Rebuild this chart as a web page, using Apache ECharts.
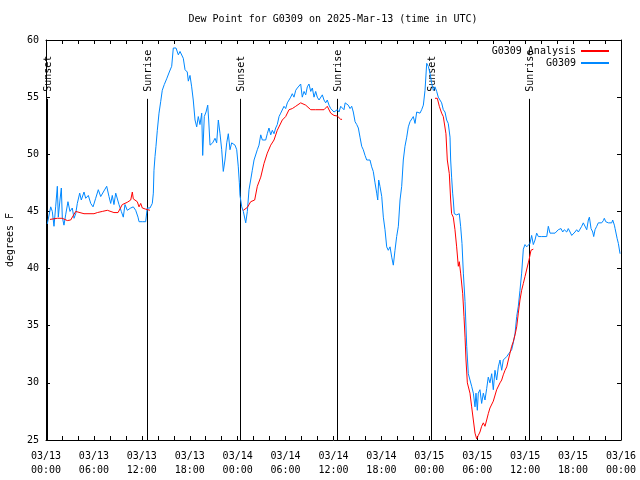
<!DOCTYPE html>
<html>
<head>
<meta charset="utf-8">
<script src="https://cdn.jsdelivr.net/npm/echarts@6/dist/echarts.min.js"></script>
<style>html,body{margin:0;padding:0;background:#fff;}#c{width:640px;height:480px;}</style>
</head>
<body>
<div id="c"></div>
<script>
// hours since 2025-03-13 00:00 UTC, dew point (F)
const stationPoints = [
[0.16,43.9],[0.38,43.75],[0.59,45.4],[0.79,45.0],[1.0,43.7],[1.21,45.4],[1.42,47.2],[1.54,44.5],[1.75,46.0],[1.92,47.05],
[2.04,44.5],[2.25,43.8],[2.46,44.7],[2.75,45.85],[3.0,45.0],[3.29,45.3],[3.51,44.4],[3.72,44.8],[3.92,45.7],[4.22,46.6],
[4.42,46.0],[4.76,46.7],[4.97,46.15],[5.30,46.4],[5.60,45.7],[5.89,45.4],[6.22,46.15],[6.55,46.9],[6.85,46.3],[7.18,46.7],
[7.60,47.2],[7.89,46.3],[8.10,45.7],[8.30,46.4],[8.51,45.6],[8.73,46.6],[9.14,45.6],[9.43,45.0],[9.68,44.5],[9.89,45.6],
[10.18,45.1],[10.61,45.3],[10.93,45.4],[11.23,45.1],[11.52,44.5],[11.65,44.1],[12.06,44.1],[12.48,44.1],[12.68,45.3],[13.02,45.3],
[13.31,45.7],[13.44,46.6],[13.52,48.6],[13.65,49.8],[13.77,50.7],[13.94,52.1],[14.15,53.6],[14.36,54.6],[14.56,55.6],[14.81,56.1],
[15.11,56.6],[15.44,57.2],[15.74,57.7],[15.94,59.3],[16.28,59.3],[16.57,58.7],[16.78,59.0],[16.99,59.0],[17.19,58.4],[17.41,57.4],
[17.69,57.2],[17.82,56.4],[18.03,56.9],[18.24,55.9],[18.44,54.75],[18.66,53.0],[18.87,52.4],[19.07,53.3],[19.28,52.6],[19.50,53.6],
[19.62,49.9],[19.82,53.3],[20.04,53.7],[20.25,54.3],[20.37,53.0],[20.54,50.8],[20.87,51.0],[21.16,51.4],[21.37,51.0],[21.58,53.0],
[21.79,51.8],[22.0,50.4],[22.20,48.5],[22.41,49.5],[22.63,51.0],[22.83,51.8],[23.04,50.4],[23.25,51.0],[23.45,51.1],[23.67,50.8],
[23.88,50.4],[24.08,48.9],[24.21,47.5],[24.29,46.4],[24.51,45.4],[24.71,45.0],[25.01,44.0],[25.21,45.0],[25.42,46.9],[25.63,47.75],
[25.83,48.6],[26.05,49.5],[26.26,49.5],[26.46,50.4],[26.67,50.8],[26.89,51.7],[27.09,51.25],[27.51,51.25],[27.71,51.8],[27.92,52.3],
[28.14,51.7],[28.34,52.1],[28.55,51.8],[28.76,52.3],[28.96,52.6],[29.18,53.3],[29.39,53.6],[29.59,53.7],[29.80,54.2],[30.01,54.0],
[30.22,54.5],[30.43,54.75],[30.64,55.0],[30.84,55.3],[31.05,55.0],[31.27,55.6],[31.47,55.8],[31.68,55.9],[31.89,56.15],[32.09,55.0],
[32.31,55.5],[32.52,55.2],[32.72,55.9],[32.93,56.15],[33.15,55.5],[33.35,55.8],[33.56,55.0],[33.77,55.5],[33.97,55.0],[34.19,54.75],
[34.40,54.9],[34.60,55.2],[34.81,54.75],[35.02,54.5],[35.22,54.75],[35.44,54.3],[35.65,54.0],[35.85,53.9],[36.06,53.7],[36.28,53.7],
[36.48,53.9],[36.69,53.7],[36.90,54.2],[37.10,54.3],[37.31,53.9],[37.46,54.5],[37.85,54.3],[38.07,54.0],[38.28,54.2],[38.48,53.7],
[38.70,52.85],[38.91,52.6],[39.11,52.3],[39.32,51.5],[39.53,50.7],[39.73,50.4],[39.95,49.9],[40.16,49.5],[40.36,49.35],[40.57,49.5],
[40.78,48.9],[40.98,48.5],[41.20,47.5],[41.41,46.6],[41.54,46.0],[41.66,47.75],[41.82,47.2],[42.04,46.3],[42.24,44.5],[42.45,43.4],
[42.66,41.9],[42.86,41.6],[43.08,41.9],[43.29,41.0],[43.49,40.3],[43.70,41.6],[43.91,42.8],[44.12,43.7],[44.33,46.0],[44.54,47.2],
[44.74,49.5],[44.95,50.7],[45.17,51.5],[45.37,52.4],[45.58,52.85],[45.79,52.7],[45.99,53.3],[46.21,52.7],[46.42,53.7],[46.62,53.7],
[46.83,53.6],[47.04,53.9],[47.25,54.3],[47.46,55.6],[47.67,57.96],[47.87,57.7],[48.08,57.1],[48.30,56.2],[48.50,55.6],[48.71,55.9],
[48.92,55.5],[49.12,55.0],[49.33,54.9],[49.54,54.5],[49.75,53.9],[49.96,53.7],[50.17,53.0],[50.37,52.7],[50.59,51.5],[50.67,49.5],
[50.79,48.0],[50.92,46.6],[51.0,46.0],[51.12,44.8],[51.42,44.7],[51.75,44.8],[51.92,43.7],[52.09,42.2],[52.26,39.6],[52.47,37.1],
[52.68,33.2],[52.88,30.8],[53.09,30.25],[53.30,29.7],[53.51,29.1],[53.72,27.9],[53.84,29.1],[54.01,27.6],[54.13,29.1],[54.34,29.4],
[54.55,28.2],[54.76,29.1],[54.97,28.5],[55.18,29.5],[55.38,30.5],[55.59,30.0],[55.81,30.8],[56.01,29.4],[56.22,31.1],[56.43,30.25],
[56.64,31.4],[56.85,32.0],[57.06,31.1],[57.26,32.0],[57.48,31.85],[57.69,32.3],[57.89,32.15],[58.10,32.7],[58.31,32.9],[58.51,33.5],
[58.73,34.3],[58.94,35.8],[59.14,36.7],[59.35,38.1],[59.56,39.6],[59.77,41.7],[59.98,42.1],[60.19,41.9],[60.39,41.8],[60.60,42.2],
[60.81,42.9],[61.02,42.1],[61.23,42.5],[61.44,43.1],[61.65,42.8],[62.07,42.8],[62.70,42.8],[62.90,43.7],[63.11,43.1],[63.74,43.1],
[63.95,43.1],[64.15,43.4],[64.49,43.5],[64.70,43.2],[64.90,43.4],[65.20,43.2],[65.40,43.5],[65.62,43.2],[65.83,42.9],[66.03,42.9],
[66.24,43.2],[66.45,43.4],[66.66,43.2],[66.87,43.1],[67.08,43.7],[67.28,44.0],[67.49,44.1],[67.71,43.4],[67.91,44.25],[68.04,44.5],
[68.25,43.5],[68.46,43.2],[68.58,42.8],[68.75,43.4],[68.96,43.7],[69.16,44.0],[69.37,44.0],[69.58,44.0],[69.79,44.2],[69.91,44.4],
[70.09,44.1],[70.42,44.0],[70.63,44.1],[70.84,44.0],[70.96,44.25],[71.17,43.8],[71.26,43.5],[71.38,43.4],[71.51,42.65],[71.67,42.2],
[71.88,41.3]
];
const analysisPoints = [
[0.50,44.3],[1.42,44.4],[2.04,44.4],[2.67,44.2],[3.09,44.25],[3.72,45.0],[4.76,44.8],[6.01,44.8],[6.43,44.9],[7.05,45.0],
[7.68,45.1],[8.51,44.9],[9.02,44.9],[9.55,45.6],[10.18,45.8],[10.61,46.0],[10.81,46.7],[10.93,46.1],[11.43,45.85],[11.65,45.4],
[11.86,45.7],[12.06,45.3],[12.48,45.2],[13.02,45.1],
[18.0,null],
[24.71,45.1],[25.21,45.35],[25.63,45.85],[26.13,46.0],[26.46,47.2],[26.89,48.0],[27.30,49.2],[27.71,50.1],[28.14,50.8],[28.55,51.25],
[28.96,52.1],[29.59,53.0],[30.01,53.3],[30.43,53.9],[30.84,54.0],[31.27,54.2],[31.89,54.5],[32.52,54.3],[33.15,53.9],[33.77,53.9],
[34.81,53.9],[35.22,54.2],[35.65,53.6],[36.06,53.4],[36.48,53.35],[36.90,53.06],[37.07,53.06],
[42.0,null],
[48.71,54.9],[49.0,54.9],[49.25,54.2],[49.54,53.6],[49.75,53.3],[49.96,53.15],[50.08,51.8],[50.25,49.5],[50.50,48.3],[50.67,46.0],
[50.79,44.8],[51.0,44.5],[51.21,43.4],[51.42,41.9],[51.63,40.2],[51.75,40.6],[51.92,39.6],[52.18,37.8],[52.34,35.8],[52.47,34.0],
[52.59,32.0],[52.76,30.0],[53.09,29.1],[53.30,27.9],[53.51,26.75],[53.72,25.6],[53.93,25.1],[54.13,25.4],[54.34,25.7],[54.55,26.2],
[54.76,26.5],[54.97,26.2],[55.18,26.75],[55.38,27.3],[55.59,27.8],[56.01,28.4],[56.43,29.4],[56.64,29.5],[56.85,30.0],[57.06,30.25],
[57.26,30.7],[57.48,31.1],[57.69,31.4],[57.89,32.0],[58.10,32.6],[58.31,33.2],[58.51,33.6],[58.73,34.2],[58.94,34.9],[59.14,36.1],
[59.35,37.25],[59.56,38.1],[59.77,38.7],[59.98,39.3],[60.19,39.4],[60.39,40.5],[60.48,40.75],[60.73,41.6],[61.02,41.7]
];
const eventTimes = [0.1, 12.6, 24.25, 36.5, 48.25, 60.45];
const eventNames = ['Sunset','Sunrise','Sunset','Sunrise','Sunset','Sunrise'];
const tickLabels = ['03/13\n00:00','03/13\n06:00','03/13\n12:00','03/13\n18:00','03/14\n00:00','03/14\n06:00','03/14\n12:00',
  '03/14\n18:00','03/15\n00:00','03/15\n06:00','03/15\n12:00','03/15\n18:00','03/16\n00:00'];
const yMin = 25, yMax = 60, markerTop = 54.85;

const FONT = '"DejaVu Sans Mono", monospace';
const chart = echarts.init(document.getElementById('c'), null, {renderer: 'canvas'});
const baseAxis = {
  axisLine: {show: true, onZero: false, lineStyle: {color: '#000', width: 1}},
  splitLine: {show: false}
};
chart.setOption({
  animation: false,
  backgroundColor: '#fff',
  title: {
    text: 'Dew Point for G0309 on 2025-Mar-13 (time in UTC)',
    left: 333, top: 14, textAlign: 'center', padding: 0,
    textStyle: {fontFamily: FONT, fontSize: 10, fontWeight: 'normal', color: '#000'}
  },
  legend: {
    orient: 'vertical', right: 30, top: 45, align: 'right',
    itemWidth: 28, itemHeight: 12, itemGap: 0, padding: 0,
    data: ['G0309 Analysis', 'G0309'],
    itemStyle: {opacity: 0},
    textStyle: {fontFamily: FONT, fontSize: 10, color: '#000', lineHeight: 12}
  },
  grid: {left: 46, right: 19, top: 40, bottom: 40, containLabel: false, outerBoundsMode: 'none'},
  xAxis: [
    Object.assign({}, baseAxis, {
      type: 'value', min: 0, max: 72, interval: 6, position: 'bottom',
      axisTick: {show: true, inside: true, length: 4, lineStyle: {color: '#000'}},
      minorTick: {show: true, splitNumber: 3, length: 4, lineStyle: {color: '#000'}},
      axisLabel: {margin: 9, lineHeight: 14, fontFamily: FONT, fontSize: 10, color: '#000',
        formatter: v => tickLabels[Math.round(v / 6)]}
    }),
    Object.assign({}, baseAxis, {
      type: 'value', min: 0, max: 72, interval: 6, position: 'top',
      axisTick: {show: true, inside: true, length: 4, lineStyle: {color: '#000'}},
      minorTick: {show: true, splitNumber: 3, length: 4, lineStyle: {color: '#000'}},
      axisLabel: {show: false}
    })
  ],
  yAxis: [
    Object.assign({}, baseAxis, {
      type: 'value', min: yMin, max: yMax, interval: 5, position: 'left',
      name: 'degrees F', nameLocation: 'middle', nameRotate: 90, nameGap: 31,
      nameTextStyle: {fontFamily: FONT, fontSize: 10, color: '#000'},
      axisTick: {show: true, inside: true, length: 4, lineStyle: {color: '#000'}},
      axisLabel: {margin: 7, fontFamily: FONT, fontSize: 10, color: '#000'}
    }),
    Object.assign({}, baseAxis, {
      type: 'value', min: yMin, max: yMax, interval: 5, position: 'right',
      axisTick: {show: true, inside: true, length: 4, lineStyle: {color: '#000'}},
      axisLabel: {show: false}
    })
  ],
  series: [
    {
      type: 'custom', name: 'events', xAxisIndex: 0, yAxisIndex: 0, clip: false, silent: true,
      data: eventTimes.map((t, i) => [t, i]),
      renderItem: function (params, api) {
        const t = api.value(0);
        const p0 = api.coord([t, yMin]);
        const p1 = api.coord([t, markerTop]);
        const x = Math.round(p0[0]) + 0.5;
        return {
          type: 'group',
          children: [
            {type: 'line', shape: {x1: x, y1: p0[1], x2: x, y2: p1[1]},
             style: {stroke: '#000', lineWidth: 1}},
            {type: 'text', x: x + 0.5, y: p1[1] - 7, rotation: Math.PI / 2,
             style: {text: eventNames[params.dataIndex], fill: '#000',
               font: '10px ' + FONT, align: 'left', verticalAlign: 'middle'}}
          ]
        };
      }
    },
    {
      type: 'line', name: 'G0309', data: stationPoints, xAxisIndex: 0, yAxisIndex: 0,
      showSymbol: false, symbol: 'none', connectNulls: false,
      color: '#0088ff', lineStyle: {color: '#0088ff', width: 1}
    },
    {
      type: 'line', name: 'G0309 Analysis', data: analysisPoints, xAxisIndex: 0, yAxisIndex: 0,
      showSymbol: false, symbol: 'none', connectNulls: false,
      color: '#ff0000', lineStyle: {color: '#ff0000', width: 1}
    }
  ]
});
</script>
</body>
</html>
